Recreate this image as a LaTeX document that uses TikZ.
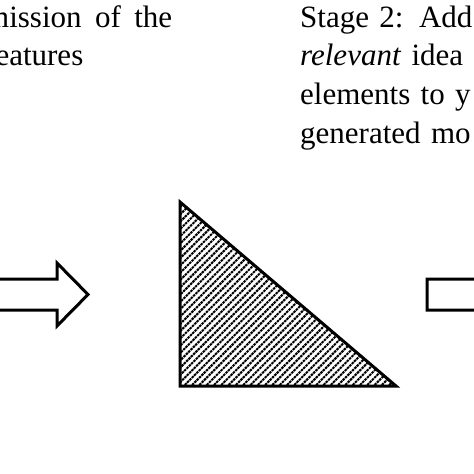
\documentclass[tikz,border=0pt]{standalone}
\usepackage{fontspec}
\setmainfont{Liberation Serif}

\tikzset{
    pics/blockarr/.style={code={
        \draw[blockarrow] (0,-15.5) -- (80,-15.5) -- (80,-31.5) -- (111,0)
            -- (80,31.5) -- (80,15.5) -- (0,15.5) -- cycle;
    }}
}

\begin{document}
\begin{tikzpicture}[x=1pt, y=-1pt,
    stage/.style={inner sep=0pt, anchor=base west, font=\fontsize{31}{38.7}\selectfont},
    blockarrow/.style={draw, line width=3pt, line join=miter, fill=white},
    hatch/.style={line width=2pt, dash pattern=on 2.5pt off 0.8pt}]

    \useasboundingbox (0,0) rectangle (474,474);

    % Stage texts
    \node[stage, text width=187pt, align=justify] (stageone) at (-15, 27)
        {mission\hfill of\hfill the\\features};
    \node[stage, text width=240pt, align=left] (stagetwo) at (300, 27)
        {Stage 2: Add\\\textit{relevant} idea\\elements to y\\generated mo};

    % Arrows
    \pic (arrowone) at (-23, 294.5) {blockarr};
    \pic (arrowtwo) at (427, 294.5) {blockarr};

    % Hatched triangle
    \coordinate (tritop) at (180, 202);
    \coordinate (trileft) at (180, 386);
    \coordinate (triright) at (396, 386);
    \begin{scope}
        \clip (tritop) -- (trileft) -- (triright) -- cycle;
        \foreach \i in {0,...,57}
            \draw[hatch] ({-12 + \i*7.3}, 392) -- ++(220, -220);
    \end{scope}
    \draw[line width=3pt, line join=miter] (tritop) -- (trileft) -- (triright) -- cycle;
\end{tikzpicture}
\end{document}
